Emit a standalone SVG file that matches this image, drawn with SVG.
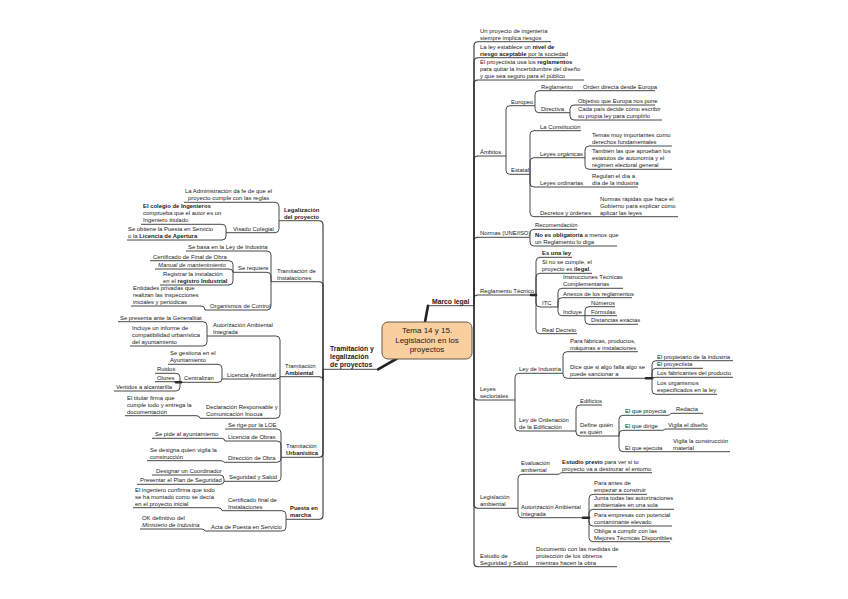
<svg xmlns="http://www.w3.org/2000/svg" width="848" height="599" viewBox="0 0 848 599">
<style>
.t{font-family:"Liberation Sans",Arial,sans-serif;font-size:5.9px;fill:#1a1a1a}
.b{font-weight:bold}
.i{font-style:italic}
.u{stroke:#333;stroke-width:0.9}
.c path{fill:none;stroke:#333;stroke-width:0.9}
.c path.m{stroke-width:1.1}
.k{stroke:#222;stroke-width:2.6;stroke-linecap:round}
.root{fill:#f9cf9f;stroke:#6a5845;stroke-width:1}
.rt{font-family:"Liberation Sans",Arial,sans-serif;font-size:8px;fill:#1a1a1a;text-anchor:middle}
.mt{font-family:"Liberation Sans",Arial,sans-serif;font-size:6.8px;font-weight:bold;fill:#1a1a1a}
</style>
<rect width="848" height="599" fill="#ffffff"/>
<g class="c" id="connectors">
<line class="k" x1="428" y1="305.7" x2="425" y2="322"/>
<line class="k" x1="378" y1="369.3" x2="397" y2="358.5"/>
<line class="k" x1="531" y1="295" x2="536" y2="295"/>
<line class="k" x1="646" y1="378.3" x2="652" y2="378.3"/>
<line class="k" x1="583" y1="517.7" x2="589" y2="517.7"/>
<line class="k" x1="176" y1="382.3" x2="181" y2="382.3"/>
<path class="m" d="M474,305.7 V45.7 Q474,41.7 478,41.7"/>
<path class="m" d="M474,305.7 V61.7 Q474,57.7 478,57.7"/>
<path class="m" d="M474,305.7 V84 Q474,80 478,80"/>
<path class="m" d="M474,305.7 V160 Q474,156 478,156"/>
<path class="m" d="M474,305.7 V241.3 Q474,237.3 478,237.3"/>
<path class="m" d="M474,305.7 V299 Q474,295 478,295"/>
<path class="m" d="M474,305.7 V396 Q474,400 478,400"/>
<path class="m" d="M474,305.7 V504.3 Q474,508.3 478,508.3"/>
<path class="m" d="M474,305.7 V562.7 Q474,566.7 478,566.7"/>
<path d="M506,156 V109.7 Q506,105.7 510,105.7"/>
<path d="M506,156 V170.3 Q506,174.3 510,174.3"/>
<path d="M535,105.7 V94.7 Q535,90.7 539,90.7"/>
<path d="M535,105.7 V108.7 Q535,112.7 539,112.7"/>
<path d="M575,90.7 H579"/>
<path d="M570,112.7 V109 Q570,105 574,105"/>
<path d="M570,112.7 V116 Q570,120 574,120"/>
<path d="M530,174.3 V134.7 Q530,130.7 534,130.7"/>
<path d="M530,174.3 V161.7 Q530,157.7 534,157.7"/>
<path d="M530,174.3 V183 Q530,187 534,187"/>
<path d="M530,174.3 V212.7 Q530,216.7 534,216.7"/>
<path d="M585,157.7 V150 Q585,146 589,146"/>
<path d="M585,157.7 V165.3 Q585,169.3 589,169.3"/>
<path d="M588,187 H591"/>
<path d="M597,216.7 H599"/>
<path d="M530,237.3 V233.3 Q530,229.3 534,229.3"/>
<path d="M530,237.3 V242 Q530,246 534,246"/>
<path d="M536,295 V261.3 Q536,257.3 540,257.3"/>
<path d="M536,295 V277.3 Q536,273.3 540,273.3"/>
<path d="M536,295 V303 Q536,307 540,307"/>
<path d="M536,295 V329.7 Q536,333.7 540,333.7"/>
<path d="M558,307 V292.3 Q558,288.3 562,288.3"/>
<path d="M558,307 V301.7 Q558,297.7 562,297.7"/>
<path d="M558,307 V311.7 Q558,315.7 562,315.7"/>
<path d="M585,315.7 V310.7 Q585,306.7 589,306.7"/>
<path d="M585,315.7 H589"/>
<path d="M585,315.7 V320.3 Q585,324.3 589,324.3"/>
<path d="M515,400 V377.3 Q515,373.3 519,373.3"/>
<path d="M515,400 V427 Q515,431 519,431"/>
<path d="M563,373.3 V355.7 Q563,351.7 567,351.7"/>
<path d="M563,373.3 V374.3 Q563,378.3 567,378.3"/>
<path d="M652,378.3 V364.7 Q652,360.7 656,360.7"/>
<path d="M652,378.3 V372.3 Q652,368.3 656,368.3"/>
<path d="M652,378.3 Q652,377.3 656,377.3"/>
<path d="M652,378.3 V390.3 Q652,394.3 656,394.3"/>
<path d="M576,431 V409 Q576,405 580,405"/>
<path d="M576,431 V432 Q576,436 580,436"/>
<path d="M619,436 V419.3 Q619,415.3 623,415.3"/>
<path d="M619,436 V434.3 Q619,430.3 623,430.3"/>
<path d="M619,436 V447.7 Q619,451.7 623,451.7"/>
<path d="M668,415.3 C670,415.3 670,413.3 672,413.3"/>
<path d="M662,430.3 C664,430.3 664,429 666,429"/>
<path d="M662,451.7 H666"/>
<path d="M518,508.3 V478.3 Q518,474.3 522,474.3"/>
<path d="M518,508.3 V513.7 Q518,517.7 522,517.7"/>
<path d="M558,474.3 C560,474.3 560,472.7 562,472.7"/>
<path d="M589,517.7 V498.3 Q589,494.3 593,494.3"/>
<path d="M589,517.7 V513.3 Q589,509.3 593,509.3"/>
<path d="M589,517.7 V522 Q589,526 593,526"/>
<path d="M589,517.7 V537.7 Q589,541.7 593,541.7"/>
<path class="m" d="M323,369.3 V224.7 Q323,220.7 319,220.7"/>
<path class="m" d="M323,369.3 V285.7 Q323,281.7 319,281.7"/>
<path class="m" d="M323,369.3 V380.7 Q323,376.7 319,376.7"/>
<path class="m" d="M323,369.3 V453.3 Q323,457.3 319,457.3"/>
<path class="m" d="M323,369.3 V515.3 Q323,519.3 319,519.3"/>
<path d="M279,220.7 V206.3 Q279,202.3 275,202.3"/>
<path d="M279,220.7 V228.7 Q279,232.7 275,232.7"/>
<path d="M226,232.7 V228.3 Q226,224.3 222,224.3"/>
<path d="M226,232.7 V236 Q226,240 222,240"/>
<path d="M271,281.7 V255 Q271,251 267,251"/>
<path d="M271,281.7 V276.3 Q271,272.3 267,272.3"/>
<path d="M271,281.7 V306 Q271,310 267,310"/>
<path d="M233,272.3 V264.7 Q233,260.7 229,260.7"/>
<path d="M233,272.3 Q233,269 229,269"/>
<path d="M233,272.3 V281 Q233,285 229,285"/>
<path d="M205,310 Q205,306 201,306"/>
<path d="M280,376.7 V340 Q280,336 276,336"/>
<path d="M280,376.7 Q280,379 276,379"/>
<path d="M280,376.7 V414.3 Q280,418.3 276,418.3"/>
<path d="M207,336 V325.7 Q207,321.7 203,321.7"/>
<path d="M207,336 V342 Q207,346 203,346"/>
<path d="M222,379 V368.3 Q222,364.3 218,364.3"/>
<path d="M222,379 Q222,382.3 218,382.3"/>
<path d="M180,382.3 V377.3 Q180,373.3 176,373.3"/>
<path d="M180,382.3 L176,381.7"/>
<path d="M180,382.3 V387 Q180,391 176,391"/>
<path d="M200,418.3 Q200,415.7 196,415.7"/>
<path d="M281,457.3 V433 Q281,429 277,429"/>
<path d="M281,457.3 V445 Q281,441 277,441"/>
<path d="M281,457.3 V458.3 Q281,462.3 277,462.3"/>
<path d="M281,457.3 V477.3 Q281,481.3 277,481.3"/>
<path d="M225,441 Q225,438.3 221,438.3"/>
<path d="M224,462.3 Q224,460.7 220,460.7"/>
<path d="M224,481.3 V479 Q224,475 220,475"/>
<path d="M224,481.3 Q224,484.3 220,484.3"/>
<path d="M286,519.3 V514.7 Q286,510.7 282,510.7"/>
<path d="M286,519.3 V527 Q286,531 282,531"/>
<path d="M222,510.7 Q222,507.7 218,507.7"/>
<path d="M205,531 Q205,529 201,529"/>
</g>

<g id="root">
<rect class="root" x="382" y="322" width="90" height="37" rx="6"/>
<text class="rt"><tspan x="427" y="333">Tema 14 y 15.</tspan><tspan x="427" y="342.5">Legislación en los</tspan><tspan x="427" y="352">proyectos</tspan></text>
</g>

<g id="marco-legal"><text class="mt" x="432" y="303.5">Marco legal</text><line class="u" x1="428" y1="305.7" x2="474" y2="305.7"/></g>
<g id="tramitacion-legalizacion"><text class="mt"><tspan x="330" y="351">Tramitación y</tspan><tspan x="330" y="359">legalización</tspan><tspan x="330" y="367">de proyectos</tspan></text><line class="u" x1="323" y1="369.3" x2="378" y2="369.3"/></g>

<!-- Right side -->
<g id="n-riesgos"><text class="t"><tspan x="480" y="32.7">Un proyecto de ingeniería</tspan><tspan x="480" y="39.7">siempre implica riesgos</tspan></text><line class="u" x1="478" y1="41.7" x2="551" y2="41.7"/></g>
<g id="n-nivel"><text class="t"><tspan x="480" y="48.7">La ley establece un <tspan class="b">nivel de</tspan></tspan><tspan x="480" y="55.7"><tspan class="b">riesgo aceptable</tspan> por la sociedad</tspan></text><line class="u" x1="478" y1="57.7" x2="565" y2="57.7"/></g>
<g id="n-reglamentos"><text class="t"><tspan x="480" y="64">El proyectista usa los <tspan class="b">reglamentos</tspan></tspan><tspan x="480" y="71">para quitar la incertidumbre del diseño</tspan><tspan x="480" y="78">y que sea seguro para el público</tspan></text><line class="u" x1="478" y1="80" x2="584" y2="80"/></g>
<g id="n-ambitos"><text class="t" x="480" y="154">Ámbitos</text><line class="u" x1="478" y1="156" x2="506" y2="156"/></g>
<g id="n-europeo"><text class="t" x="511" y="103.7">Europeo</text><line class="u" x1="510" y1="105.7" x2="535" y2="105.7"/></g>
<g id="n-reglamento-eu"><text class="t" x="541" y="88.7">Reglamento</text><line class="u" x1="539" y1="90.7" x2="575" y2="90.7"/></g>
<g id="n-orden"><text class="t" x="583" y="88.7">Orden directa desde Europa</text><line class="u" x1="579" y1="90.7" x2="655" y2="90.7"/></g>
<g id="n-directiva"><text class="t" x="541" y="110.7">Directiva</text><line class="u" x1="539" y1="112.7" x2="570" y2="112.7"/></g>
<g id="n-objetivo"><text class="t" x="578" y="103">Objetivo que Europa nos pone</text><line class="u" x1="574" y1="105" x2="655" y2="105"/></g>
<g id="n-cada-pais"><text class="t"><tspan x="578" y="111">Cada país decide cómo escribir</tspan><tspan x="578" y="118">su propia ley para cumplirlo</tspan></text><line class="u" x1="574" y1="120" x2="662" y2="120"/></g>
<g id="n-estatal"><text class="t" x="511" y="172.3">Estatal</text><line class="u" x1="510" y1="174.3" x2="530" y2="174.3"/></g>
<g id="n-constitucion"><text class="t" x="540" y="128.7">La Constitución</text><line class="u" x1="534" y1="130.7" x2="581" y2="130.7"/></g>
<g id="n-organicas"><text class="t" x="540" y="155.7">Leyes orgánicas</text><line class="u" x1="534" y1="157.7" x2="585" y2="157.7"/></g>
<g id="n-temas"><text class="t"><tspan x="592" y="137">Temas muy importantes como</tspan><tspan x="592" y="144">derechos fundamentales</tspan></text><line class="u" x1="589" y1="146" x2="672" y2="146"/></g>
<g id="n-tambien"><text class="t"><tspan x="592" y="153.3">También las que aprueban los</tspan><tspan x="592" y="160.3">estatutos de autonomía y el</tspan><tspan x="592" y="167.3">régimen electoral general</tspan></text><line class="u" x1="589" y1="169.3" x2="672" y2="169.3"/></g>
<g id="n-ordinarias"><text class="t" x="540" y="185">Leyes ordinarias</text><line class="u" x1="534" y1="187" x2="588" y2="187"/></g>
<g id="n-regulan"><text class="t"><tspan x="592" y="178">Regulan el día a</tspan><tspan x="592" y="185">día de la industria</tspan></text><line class="u" x1="591" y1="187" x2="638" y2="187"/></g>
<g id="n-decretos"><text class="t" x="540" y="214.7">Decretos y órdenes</text><line class="u" x1="534" y1="216.7" x2="597" y2="216.7"/></g>
<g id="n-normas-rapidas"><text class="t"><tspan x="600" y="200.7">Normas rápidas que hace el</tspan><tspan x="600" y="207.7">Gobierno para explicar cómo</tspan><tspan x="600" y="214.7">aplicar las leyes</tspan></text><line class="u" x1="599" y1="216.7" x2="678" y2="216.7"/></g>
<g id="n-normas"><text class="t" x="480" y="235.3">Normas (UNE/ISO)</text><line class="u" x1="478" y1="237.3" x2="530" y2="237.3"/></g>
<g id="n-recomendacion"><text class="t" x="535" y="227.3">Recomendación</text><line class="u" x1="534" y1="229.3" x2="577" y2="229.3"/></g>
<g id="n-no-obligatoria"><text class="t"><tspan x="535" y="237"><tspan class="b">No es obligatoria</tspan> a menos que</tspan><tspan x="535" y="244">un Reglamento lo diga</tspan></text><line class="u" x1="534" y1="246" x2="617" y2="246"/></g>
<g id="n-reglamento-tecnico"><text class="t" x="480" y="293">Reglamento Técnico</text><line class="u" x1="478" y1="295" x2="536" y2="295"/></g>
<g id="n-es-ley"><text class="t b" x="542" y="255.3">Es una ley</text><line class="u" x1="540" y1="257.3" x2="572" y2="257.3"/></g>
<g id="n-si-no"><text class="t"><tspan x="542" y="264.3">Si no se cumple, el</tspan><tspan x="542" y="271.3">proyecto es <tspan class="b">ilegal</tspan>.</tspan></text><line class="u" x1="540" y1="273.3" x2="592" y2="273.3"/></g>
<g id="n-itc"><text class="t" x="542" y="305">ITC</text><line class="u" x1="540" y1="307" x2="558" y2="307"/></g>
<g id="n-instrucciones"><text class="t"><tspan x="563" y="279.3">Instrucciones Técnicas</tspan><tspan x="563" y="286.3">Complementarias</tspan></text><line class="u" x1="562" y1="288.3" x2="623" y2="288.3"/></g>
<g id="n-anexos"><text class="t" x="563" y="295.7">Anexos de los reglamentos</text><line class="u" x1="562" y1="297.7" x2="632" y2="297.7"/></g>
<g id="n-incluye"><text class="t" x="563" y="313.7">Incluye</text><line class="u" x1="562" y1="315.7" x2="585" y2="315.7"/></g>
<g id="n-numeros"><text class="t" x="591" y="304.7">Números</text><line class="u" x1="589" y1="306.7" x2="615" y2="306.7"/></g>
<g id="n-formulas"><text class="t" x="591" y="313.7">Fórmulas</text><line class="u" x1="589" y1="315.7" x2="617" y2="315.7"/></g>
<g id="n-distancias"><text class="t" x="591" y="322.3">Distancias exactas</text><line class="u" x1="589" y1="324.3" x2="638" y2="324.3"/></g>
<g id="n-real-decreto"><text class="t" x="542" y="331.7">Real Decreto</text><line class="u" x1="540" y1="333.7" x2="577" y2="333.7"/></g>
<g id="n-leyes-sectoriales"><text class="t"><tspan x="480" y="391">Leyes</tspan><tspan x="480" y="398">sectoriales</tspan></text><line class="u" x1="478" y1="400" x2="515" y2="400"/></g>
<g id="n-ley-industria"><text class="t" x="519" y="371.3">Ley de Industria</text><line class="u" x1="519" y1="373.3" x2="563" y2="373.3"/></g>
<g id="n-para-fabricas"><text class="t"><tspan x="570" y="342.7">Para fábricas, productos,</tspan><tspan x="570" y="349.7">máquinas e instalaciones</tspan></text><line class="u" x1="567" y1="351.7" x2="638" y2="351.7"/></g>
<g id="n-dice"><text class="t"><tspan x="570" y="369.3">Dice que si algo falla algo se</tspan><tspan x="570" y="376.3">puede sancionar a</tspan></text><line class="u" x1="567" y1="378.3" x2="652" y2="378.3"/></g>
<g id="n-propietario"><text class="t" x="657" y="358.7">El propietario de la industria</text><line class="u" x1="656" y1="360.7" x2="733" y2="360.7"/></g>
<g id="n-proyectista"><text class="t" x="657" y="366.3">El proyectista</text><line class="u" x1="656" y1="368.3" x2="703" y2="368.3"/></g>
<g id="n-fabricantes"><text class="t" x="657" y="375.3">Los fabricantes del producto</text><line class="u" x1="656" y1="377.3" x2="733" y2="377.3"/></g>
<g id="n-organismos"><text class="t"><tspan x="657" y="385.3">Los organismos</tspan><tspan x="657" y="392.3">especificados en la ley</tspan></text><line class="u" x1="656" y1="394.3" x2="717" y2="394.3"/></g>
<g id="n-loe"><text class="t"><tspan x="519" y="422">Ley de Ordenación</tspan><tspan x="519" y="429">de la Edificación</tspan></text><line class="u" x1="519" y1="431" x2="576" y2="431"/></g>
<g id="n-edificios"><text class="t" x="580" y="403">Edificios</text><line class="u" x1="580" y1="405" x2="602" y2="405"/></g>
<g id="n-define"><text class="t"><tspan x="580" y="427">Define quién</tspan><tspan x="580" y="434">es quién</tspan></text><line class="u" x1="580" y1="436" x2="619" y2="436"/></g>
<g id="n-proyecta"><text class="t" x="625" y="413.3">El que proyecta</text><line class="u" x1="623" y1="415.3" x2="668" y2="415.3"/></g>
<g id="n-redacta"><text class="t" x="676" y="411.3">Redacta</text><line class="u" x1="672" y1="413.3" x2="703" y2="413.3"/></g>
<g id="n-dirige"><text class="t" x="625" y="428.3">El que dirige</text><line class="u" x1="623" y1="430.3" x2="662" y2="430.3"/></g>
<g id="n-vigila-diseno"><text class="t" x="668" y="427">Vigila el diseño</text><line class="u" x1="666" y1="429" x2="708" y2="429"/></g>
<g id="n-ejecuta"><text class="t" x="625" y="449.7">El que ejecuta</text><line class="u" x1="623" y1="451.7" x2="662" y2="451.7"/></g>
<g id="n-vigila-construccion"><text class="t"><tspan x="673" y="442.7">Vigila la construcción</tspan><tspan x="673" y="449.7">material</tspan></text><line class="u" x1="666" y1="451.7" x2="730" y2="451.7"/></g>
<g id="n-legislacion-ambiental"><text class="t"><tspan x="480" y="499.3">Legislación</tspan><tspan x="480" y="506.3">ambiental</tspan></text><line class="u" x1="478" y1="508.3" x2="518" y2="508.3"/></g>
<g id="n-evaluacion"><text class="t"><tspan x="521" y="465.3">Evaluación</tspan><tspan x="521" y="472.3">ambiental</tspan></text><line class="u" x1="522" y1="474.3" x2="558" y2="474.3"/></g>
<g id="n-estudio-previo"><text class="t"><tspan x="562" y="463.7"><tspan class="b">Estudio previo</tspan> para ver si tu</tspan><tspan x="562" y="470.7">proyecto va a destrozar el entorno</tspan></text><line class="u" x1="562" y1="472.7" x2="652" y2="472.7"/></g>
<g id="n-aai-r"><text class="t"><tspan x="521" y="508.7">Autorización Ambiental</tspan><tspan x="521" y="515.7">Integrada</tspan></text><line class="u" x1="522" y1="517.7" x2="589" y2="517.7"/></g>
<g id="n-antes"><text class="t"><tspan x="594" y="485.3">Para antes de</tspan><tspan x="594" y="492.3">empezar a construir</tspan></text><line class="u" x1="593" y1="494.3" x2="647" y2="494.3"/></g>
<g id="n-junta"><text class="t"><tspan x="594" y="500.3">Junta todas las autorizaciones</tspan><tspan x="594" y="507.3">ambientales en una sola</tspan></text><line class="u" x1="593" y1="509.3" x2="674" y2="509.3"/></g>
<g id="n-empresas"><text class="t"><tspan x="594" y="517">Para empresas con potencial</tspan><tspan x="594" y="524">contaminante elevado</tspan></text><line class="u" x1="593" y1="526" x2="672" y2="526"/></g>
<g id="n-obliga"><text class="t"><tspan x="594" y="532.7">Obliga a cumplir con las</tspan><tspan x="594" y="539.7">Mejores Técnicas Disponibles</tspan></text><line class="u" x1="593" y1="541.7" x2="670" y2="541.7"/></g>
<g id="n-ess"><text class="t"><tspan x="480" y="557.7">Estudio de</tspan><tspan x="480" y="564.7">Seguridad y Salud</tspan></text><line class="u" x1="478" y1="566.7" x2="534" y2="566.7"/></g>
<g id="n-documento"><text class="t"><tspan x="536" y="550.7">Documento con las medidas de</tspan><tspan x="536" y="557.7">protección de los obreros</tspan><tspan x="536" y="564.7">mientras hacen la obra</tspan></text><line class="u" x1="534" y1="566.7" x2="617" y2="566.7"/></g>

<!-- Left side -->
<g id="n-legalizacion"><text class="t b"><tspan x="284" y="211.7">Legalización</tspan><tspan x="284" y="218.7">del proyecto</tspan></text><line class="u" x1="279" y1="220.7" x2="319" y2="220.7"/></g>
<g id="n-administracion"><text class="t"><tspan x="185" y="193.3">La Administración da fe de que el</tspan><tspan x="188" y="200.3">proyecto cumple con las reglas</tspan></text><line class="u" x1="184" y1="202.3" x2="275" y2="202.3"/></g>
<g id="n-visado"><text class="t" x="233" y="230.7">Visado Colegial</text><line class="u" x1="226" y1="232.7" x2="275" y2="232.7"/></g>
<g id="n-colegio"><text class="t"><tspan x="143" y="208.3" class="b">El colegio de Ingenieros</tspan><tspan x="143" y="215.3">comprueba que el autor es un</tspan><tspan x="143" y="222.3">Ingeniero titulado</tspan></text><line class="u" x1="141" y1="224.3" x2="222" y2="224.3"/></g>
<g id="n-obtiene"><text class="t"><tspan x="128" y="231">Se obtiene la Puesta en Servicio</tspan><tspan x="128" y="238">o la <tspan class="b">Licencia de Apertura</tspan></tspan></text><line class="u" x1="127" y1="240" x2="222" y2="240"/></g>
<g id="n-tramitacion-instalaciones"><text class="t"><tspan x="277" y="272.7">Tramitación de</tspan><tspan x="277" y="279.7">Instalaciones</tspan></text><line class="u" x1="271" y1="281.7" x2="319" y2="281.7"/></g>
<g id="n-basa"><text class="t" x="188" y="249">Se basa en la Ley de Industria</text><line class="u" x1="186" y1="251" x2="267" y2="251"/></g>
<g id="n-requiere"><text class="t" x="238" y="270.3">Se requiere</text><line class="u" x1="233" y1="272.3" x2="267" y2="272.3"/></g>
<g id="n-certificado-obra"><text class="t" x="153" y="258.7">Certificado de Final de Obra</text><line class="u" x1="150" y1="260.7" x2="229" y2="260.7"/></g>
<g id="n-manual"><text class="t i" x="158" y="267">Manual de mantenimiento</text><line class="u" x1="155" y1="269" x2="229" y2="269"/></g>
<g id="n-registrar"><text class="t"><tspan x="163" y="276">Registrar la instalación</tspan><tspan x="163" y="283">en el <tspan class="b">registro Industrial</tspan></tspan></text><line class="u" x1="160" y1="285" x2="229" y2="285"/></g>
<g id="n-organismos-control"><text class="t" x="210" y="308">Organismos de Control</text><line class="u" x1="205" y1="310" x2="267" y2="310"/></g>
<g id="n-entidades"><text class="t"><tspan x="133" y="290">Entidades privadas que</tspan><tspan x="133" y="297">realizan las inspecciones</tspan><tspan x="133" y="304">iniciales y periódicas</tspan></text><line class="u" x1="131" y1="306" x2="201" y2="306"/></g>
<g id="n-tramitacion-ambiental"><text class="t"><tspan x="285" y="367.7">Tramitación</tspan><tspan x="285" y="374.7" class="b">Ambiental</tspan></text><line class="u" x1="280" y1="376.7" x2="319" y2="376.7"/></g>
<g id="n-aai-l"><text class="t"><tspan x="213" y="327">Autorización Ambiental</tspan><tspan x="213" y="334">Integrada</tspan></text><line class="u" x1="207" y1="336" x2="276" y2="336"/></g>
<g id="n-presenta"><text class="t" x="120" y="319.7">Se presenta ante la Generalitat</text><line class="u" x1="118" y1="321.7" x2="203" y2="321.7"/></g>
<g id="n-informe"><text class="t"><tspan x="132" y="330">Incluye un informe de</tspan><tspan x="132" y="337">compatibilidad urbanística</tspan><tspan x="132" y="344">del ayuntamiento</tspan></text><line class="u" x1="130" y1="346" x2="203" y2="346"/></g>
<g id="n-licencia-ambiental"><text class="t" x="227" y="377">Licencia Ambiental</text><line class="u" x1="222" y1="379" x2="276" y2="379"/></g>
<g id="n-gestiona"><text class="t"><tspan x="170" y="355.3">Se gestiona en el</tspan><tspan x="170" y="362.3">Ayuntamiento</tspan></text><line class="u" x1="168" y1="364.3" x2="218" y2="364.3"/></g>
<g id="n-centralizan"><text class="t" x="184" y="380.3">Centralizan</text><line class="u" x1="180" y1="382.3" x2="218" y2="382.3"/></g>
<g id="n-ruidos"><text class="t" x="157" y="371.3">Ruidos</text><line class="u" x1="155" y1="373.3" x2="176" y2="373.3"/></g>
<g id="n-olores"><text class="t" x="157" y="379.7">Olores</text><line class="u" x1="155" y1="381.7" x2="176" y2="381.7"/></g>
<g id="n-vertidos"><text class="t" x="116" y="389">Vertidos a alcantarilla</text><line class="u" x1="114" y1="391" x2="176" y2="391"/></g>
<g id="n-declaracion"><text class="t"><tspan x="206" y="409.3">Declaración Responsable y</tspan><tspan x="206" y="416.3">Comunicación Inocua</tspan></text><line class="u" x1="200" y1="418.3" x2="276" y2="418.3"/></g>
<g id="n-titular"><text class="t"><tspan x="127" y="399.7">El titular firma que</tspan><tspan x="127" y="406.7">cumple todo y entrega la</tspan><tspan x="127" y="413.7">documentación</tspan></text><line class="u" x1="125" y1="415.7" x2="196" y2="415.7"/></g>
<g id="n-tramitacion-urbanistica"><text class="t"><tspan x="286" y="448.3">Tramitación</tspan><tspan x="286" y="455.3" class="b">Urbanística</tspan></text><line class="u" x1="281" y1="457.3" x2="319" y2="457.3"/></g>
<g id="n-rige"><text class="t" x="228" y="427">Se rige por la LOE</text><line class="u" x1="225" y1="429" x2="277" y2="429"/></g>
<g id="n-licencia-obras"><text class="t" x="228" y="439">Licencia de Obras</text><line class="u" x1="225" y1="441" x2="277" y2="441"/></g>
<g id="n-pide"><text class="t" x="155" y="436.3">Se pide al ayuntamiento</text><line class="u" x1="152" y1="438.3" x2="221" y2="438.3"/></g>
<g id="n-direccion"><text class="t" x="228" y="460.3">Dirección de Obra</text><line class="u" x1="224" y1="462.3" x2="277" y2="462.3"/></g>
<g id="n-designa"><text class="t"><tspan x="150" y="451.7">Se designa quien vigila la</tspan><tspan x="150" y="458.7">construcción</tspan></text><line class="u" x1="147" y1="460.7" x2="220" y2="460.7"/></g>
<g id="n-seguridad"><text class="t" x="229" y="479.3">Seguridad y Salud</text><line class="u" x1="224" y1="481.3" x2="277" y2="481.3"/></g>
<g id="n-coordinador"><text class="t" x="156" y="473">Designar un Coordinador</text><line class="u" x1="152" y1="475" x2="220" y2="475"/></g>
<g id="n-plan"><text class="t" x="140" y="482.3">Presentar el Plan de Seguridad</text><line class="u" x1="137" y1="484.3" x2="220" y2="484.3"/></g>
<g id="n-puesta"><text class="t b"><tspan x="290" y="510.3">Puesta en</tspan><tspan x="290" y="517.3">marcha</tspan></text><line class="u" x1="286" y1="519.3" x2="319" y2="519.3"/></g>
<g id="n-certificado-final"><text class="t"><tspan x="228" y="501.7">Certificado final de</tspan><tspan x="228" y="508.7">Instalaciones</tspan></text><line class="u" x1="222" y1="510.7" x2="282" y2="510.7"/></g>
<g id="n-ingeniero"><text class="t"><tspan x="135" y="491.7">El ingeniero confirma que todo</tspan><tspan x="135" y="498.7">se ha montado como se decía</tspan><tspan x="135" y="505.7">en el proyecto inicial</tspan></text><line class="u" x1="133" y1="507.7" x2="218" y2="507.7"/></g>
<g id="n-acta"><text class="t" x="211" y="529">Acta de Puesta en Servicio</text><line class="u" x1="205" y1="531" x2="282" y2="531"/></g>
<g id="n-ok"><text class="t"><tspan x="142" y="520">OK definitivo del</tspan><tspan x="142" y="527" class="i">Ministerio de Industria</tspan></text><line class="u" x1="140" y1="529" x2="201" y2="529"/></g>
</svg>
